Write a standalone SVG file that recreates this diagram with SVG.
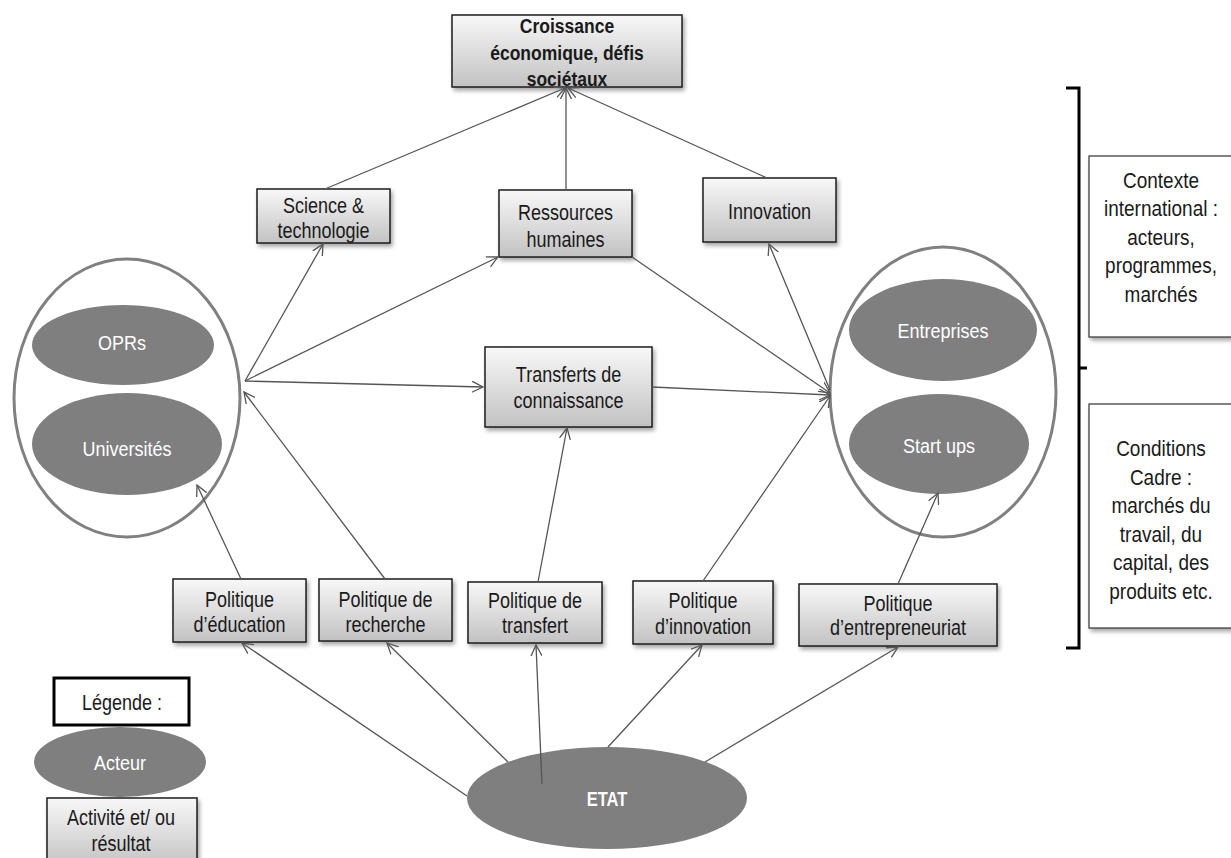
<svg xmlns="http://www.w3.org/2000/svg" width="1231" height="858" viewBox="0 0 1231 858">
<defs>
<linearGradient id="g" x1="0" y1="0" x2="0" y2="1">
<stop offset="0" stop-color="#f8f8f8"/>
<stop offset="1" stop-color="#c2c2c2"/>
</linearGradient>
<filter id="sh" x="-10%" y="-10%" width="130%" height="150%">
<feDropShadow dx="2" dy="3" stdDeviation="2" flood-color="#000" flood-opacity="0.35"/>
</filter>
<marker id="a" markerUnits="userSpaceOnUse" viewBox="0 0 14 12" markerWidth="14" markerHeight="12" refX="11" refY="6" orient="auto">
<path d="M0,0.5 L11,6 L0,11.5" fill="none" stroke="#555" stroke-width="1.3"/>
</marker>
</defs>
<style>
.box{fill:url(#g);stroke:#1e1e1e;stroke-width:1.5;filter:url(#sh)}
.wbox{fill:#fff;stroke:#333;stroke-width:1.2;filter:url(#sh)}
.t{font-family:"Liberation Sans",Arial,sans-serif;font-size:18px;fill:#1a1a1a;text-anchor:middle}
.tb{font-weight:bold;font-size:17.5px}
.tr{font-size:19px}
.w{fill:#fff}
.act{fill:#7f7f7f}
.ring{fill:none;stroke:#808080;stroke-width:3}
.c line{stroke:#555;stroke-width:1.3;marker-end:url(#a)}
</style>
<rect width="1231" height="858" fill="#fff"/>

<g id="croissance">
<rect class="box" x="452" y="15" width="230" height="72"/>
<text class="t tb" transform="matrix(1 0 0 1.2 567 33)">Croissance</text>
<text class="t tb" transform="matrix(1 0 0 1.2 567 60)">économique, défis</text>
<text class="t tb" transform="matrix(1 0 0 1.2 567 86)">sociétaux</text>
</g>

<g id="science">
<rect class="box" x="257" y="189" width="133" height="54"/>
<text class="t" transform="matrix(1 0 0 1.2 323.5 213)">Science &amp;</text>
<text class="t" transform="matrix(1 0 0 1.2 323.5 238)">technologie</text>
</g>

<g id="ressources">
<rect class="box" x="499" y="190" width="133" height="67"/>
<text class="t" transform="matrix(1 0 0 1.2 565.5 220)">Ressources</text>
<text class="t" transform="matrix(1 0 0 1.2 565.5 247)">humaines</text>
</g>

<g id="innovation">
<rect class="box" x="703" y="178" width="133" height="64"/>
<text class="t" transform="matrix(1 0 0 1.2 769.5 219)">Innovation</text>
</g>

<g id="transferts">
<rect class="box" x="485" y="347" width="167" height="80"/>
<text class="t" transform="matrix(1 0 0 1.2 568.5 382)">Transferts de</text>
<text class="t" transform="matrix(1 0 0 1.2 568.5 408)">connaissance</text>
</g>

<g id="groupe-public">
<ellipse class="ring" cx="127" cy="398" rx="113" ry="139"/>
<g id="oprs">
<ellipse class="act" cx="123" cy="345" rx="91" ry="40"/>
<text class="t w" transform="matrix(1 0 0 1.1 122 350)">OPRs</text>
</g>
<g id="universites">
<ellipse class="act" cx="127" cy="444" rx="95" ry="51"/>
<text class="t w" transform="matrix(1 0 0 1.1 127 456)">Universités</text>
</g>
</g>

<g id="groupe-prive">
<ellipse class="ring" cx="943" cy="392" rx="113" ry="145"/>
<g id="entreprises">
<ellipse class="act" cx="943" cy="330" rx="94" ry="51"/>
<text class="t w" transform="matrix(1 0 0 1.1 943 338)">Entreprises</text>
</g>
<g id="startups">
<ellipse class="act" cx="939" cy="444" rx="90" ry="50"/>
<text class="t w" transform="matrix(1 0 0 1.1 939 453)">Start ups</text>
</g>
</g>

<g id="pol-education">
<rect class="box" x="173" y="579" width="133" height="63"/>
<text class="t" transform="matrix(1 0 0 1.2 239.5 607)">Politique</text>
<text class="t" transform="matrix(1 0 0 1.2 239.5 632)">d’éducation</text>
</g>

<g id="pol-recherche">
<rect class="box" x="319" y="579" width="133" height="62"/>
<text class="t" transform="matrix(1 0 0 1.2 385.5 607)">Politique de</text>
<text class="t" transform="matrix(1 0 0 1.2 385.5 632)">recherche</text>
</g>

<g id="pol-transfert">
<rect class="box" x="468" y="582" width="134" height="61"/>
<text class="t" transform="matrix(1 0 0 1.2 535 608)">Politique de</text>
<text class="t" transform="matrix(1 0 0 1.2 535 633)">transfert</text>
</g>

<g id="pol-innovation">
<rect class="box" x="633" y="581" width="140" height="63"/>
<text class="t" transform="matrix(1 0 0 1.2 703 608)">Politique</text>
<text class="t" transform="matrix(1 0 0 1.2 703 634)">d’innovation</text>
</g>

<g id="pol-entrepreneuriat">
<rect class="box" x="799" y="584" width="198" height="62"/>
<text class="t" transform="matrix(1 0 0 1.2 898 611)">Politique</text>
<text class="t" transform="matrix(1 0 0 1.2 898 635)">d’entrepreneuriat</text>
</g>

<g id="etat">
<ellipse class="act" cx="607" cy="798" rx="140" ry="51"/>
<text class="t w" style="font-weight:bold;font-size:16.5px" transform="matrix(1 0 0 1.2 607 806)">ETAT</text>
</g>

<g id="contexte">
<rect class="wbox" x="1089" y="156" width="145" height="181"/>
<text class="t tr" transform="matrix(1 0 0 1.2 1161 188)">Contexte</text>
<text class="t tr" transform="matrix(1 0 0 1.2 1161 216)">international :</text>
<text class="t tr" transform="matrix(1 0 0 1.2 1161 245)">acteurs,</text>
<text class="t tr" transform="matrix(1 0 0 1.2 1161 273)">programmes,</text>
<text class="t tr" transform="matrix(1 0 0 1.2 1161 302)">marchés</text>
</g>

<g id="conditions">
<rect class="wbox" x="1089" y="404" width="145" height="224"/>
<text class="t tr" transform="matrix(1 0 0 1.2 1161 456)">Conditions</text>
<text class="t tr" transform="matrix(1 0 0 1.2 1161 484.5)">Cadre :</text>
<text class="t tr" transform="matrix(1 0 0 1.2 1161 513)">marchés du</text>
<text class="t tr" transform="matrix(1 0 0 1.2 1161 541.5)">travail, du</text>
<text class="t tr" transform="matrix(1 0 0 1.2 1161 570)">capital, des</text>
<text class="t tr" transform="matrix(1 0 0 1.2 1161 598.5)">produits etc.</text>
</g>

<g id="accolade">
<path d="M1066,88 H1079 V648 H1066 M1079,368 H1087" fill="none" stroke="#000" stroke-width="3"/>
</g>

<g id="legende">
<rect x="54" y="678" width="135" height="47" fill="#fff" stroke="#000" stroke-width="3"/>
<text class="t" transform="matrix(1 0 0 1.2 122 710)">Légende :</text>
</g>
<g id="legende-acteur">
<ellipse class="act" cx="120" cy="762" rx="86" ry="35"/>
<text class="t w" transform="matrix(1 0 0 1.1 120 770)">Acteur</text>
</g>
<g id="legende-activite">
<rect class="box" x="47" y="798" width="150" height="70"/>
<text class="t" transform="matrix(1 0 0 1.2 121 825)">Activité et/ ou</text>
<text class="t" transform="matrix(1 0 0 1.2 121 851)">résultat</text>
</g>

<g id="connecteurs" class="c">
<line x1="325" y1="189" x2="565" y2="88"/>
<line x1="566" y1="190" x2="566" y2="88"/>
<line x1="767" y1="178" x2="568" y2="88"/>
<line x1="245" y1="381" x2="323" y2="244"/>
<line x1="245" y1="381" x2="498" y2="257"/>
<line x1="245" y1="381" x2="483" y2="387"/>
<line x1="385" y1="579" x2="244" y2="392"/>
<line x1="241" y1="579" x2="197" y2="485"/>
<line x1="632" y1="257" x2="830" y2="393"/>
<line x1="652" y1="387" x2="830" y2="395"/>
<line x1="830" y1="390" x2="769" y2="244"/>
<line x1="703" y1="581" x2="830" y2="396"/>
<line x1="898" y1="584" x2="938" y2="493"/>
<line x1="538" y1="582" x2="567" y2="428"/>
<line x1="467" y1="796" x2="242" y2="643"/>
<line x1="508" y1="762" x2="387" y2="643"/>
<line x1="542" y1="784" x2="536" y2="645"/>
<line x1="608" y1="747" x2="702" y2="645"/>
<line x1="705" y1="762" x2="898" y2="647"/>
</g>
</svg>
